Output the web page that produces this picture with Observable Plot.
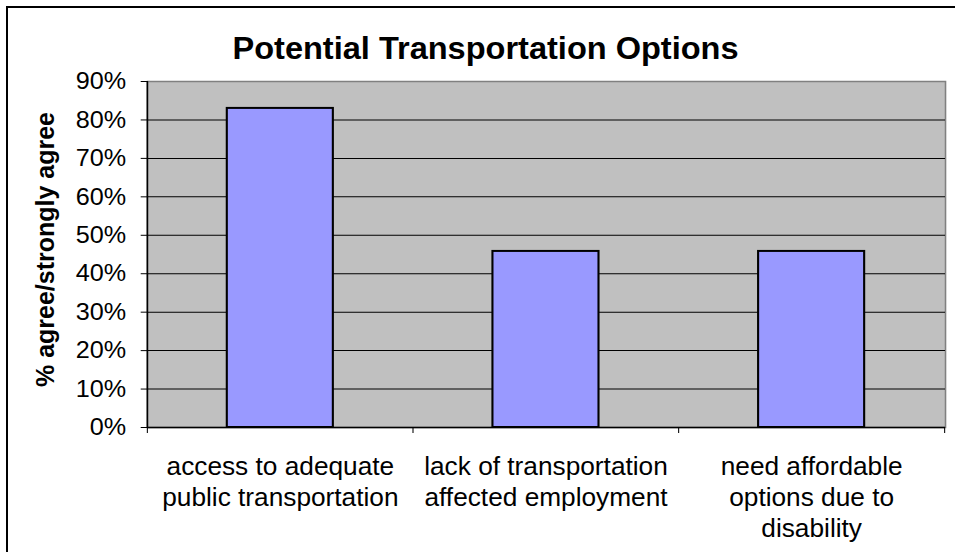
<!DOCTYPE html>
<html><head><meta charset="utf-8">
<script src="https://cdn.jsdelivr.net/npm/d3@7"></script>
<script src="https://cdn.jsdelivr.net/npm/@observablehq/plot@0.6"></script>
<style>
html,body{margin:0;padding:0;background:#fff;}
body{width:955px;height:552px;overflow:hidden;position:relative}
#chart{position:absolute;left:0;top:0}
#border{position:absolute;left:6px;top:6px;width:1100px;height:1100px;border:2px solid #000;box-sizing:border-box;pointer-events:none}
</style></head><body>
<div id="chart"></div><div id="border"></div>
<script>
// ---- data ----
const title = "Potential Transportation Options";
const yLabel = "% agree/strongly agree";
const categories = [
  "access to adequate\npublic transportation",
  "lack of transportation\naffected employment",
  "need affordable\noptions due to\ndisability"
];
const values = [0.83, 0.458, 0.458];
const yTicks = [0, 0.1, 0.2, 0.3, 0.4, 0.5, 0.6, 0.7, 0.8, 0.9];

// ---- layout ----
const S = 1.05;               // horizontal stretch of the original picture
const W = 955, H = 552;
const w = W / S;
const ml = 147 / S, mr = 10 / S, mt = 81, mb = 125;
const step = (w - ml - mr) / categories.length;
const font = "'Liberation Sans', Arial, sans-serif";
const data = categories.map((c, i) => ({category: c, value: values[i]}));

const plot = Plot.plot({
  width: w, height: H,
  marginLeft: ml, marginRight: mr, marginTop: mt, marginBottom: mb,
  style: {fontFamily: font, fontSize: "24px", color: "#000", background: "transparent", overflow: "visible"},
  x: {domain: categories, paddingInner: 0.6, paddingOuter: 0.3, axis: null},
  y: {domain: [0, 0.9], axis: null},
  marks: [
    Plot.frame({fill: "#c0c0c0", stroke: "#808080", strokeWidth: 1.5}),
    Plot.ruleY(yTicks.slice(1, -1), {stroke: "#000", strokeWidth: 1}),
    Plot.barY(data, {x: "category", y: "value", fill: "#9999ff", stroke: "#000", strokeWidth: 2}),
    Plot.ruleY([0], {stroke: "#000", strokeWidth: 1.5}),
    // left axis line
    Plot.ruleX([categories[0]], {x: d => d, dx: -step / 2, stroke: "#000", strokeWidth: 1.5}),
    // x ticks at category boundaries
    Plot.ruleX(categories, {x: d => d, dx: -step / 2, y1: 0, y2: 0, insetBottom: -6, stroke: "#000"}),
    Plot.ruleX([categories[categories.length - 1]], {x: d => d, dx: step / 2, y1: 0, y2: 0, insetBottom: -6, stroke: "#000"}),
    Plot.axisY({ticks: yTicks, tickFormat: d3.format(".0%"), tickSize: 6, tickPadding: 15 / S, fontSize: 24, label: null, stroke: "#000"}),
    Plot.text(categories, {x: d => d, text: d => d, frameAnchor: "bottom", lineAnchor: "top", dy: 25, lineHeight: 1.25, fontSize: 25}),
    Plot.text([title], {frameAnchor: "top", dx: -61 / S, dy: -23, lineAnchor: "bottom", fontSize: 31, fontWeight: "bold"}),
    Plot.text([yLabel], {frameAnchor: "left", textAnchor: "middle", dx: -(147 - 45) / S, dy: -5, rotate: -90, fontSize: 25, fontWeight: "bold"})
  ]
});
plot.setAttribute("width", W);
plot.setAttribute("height", H);
plot.setAttribute("viewBox", `0 0 ${w} ${H}`);
plot.setAttribute("preserveAspectRatio", "none");
plot.style.maxWidth = "none";
plot.style.height = H + "px";
plot.style.width = W + "px";
document.getElementById("chart").appendChild(plot);
</script>
</body></html>
